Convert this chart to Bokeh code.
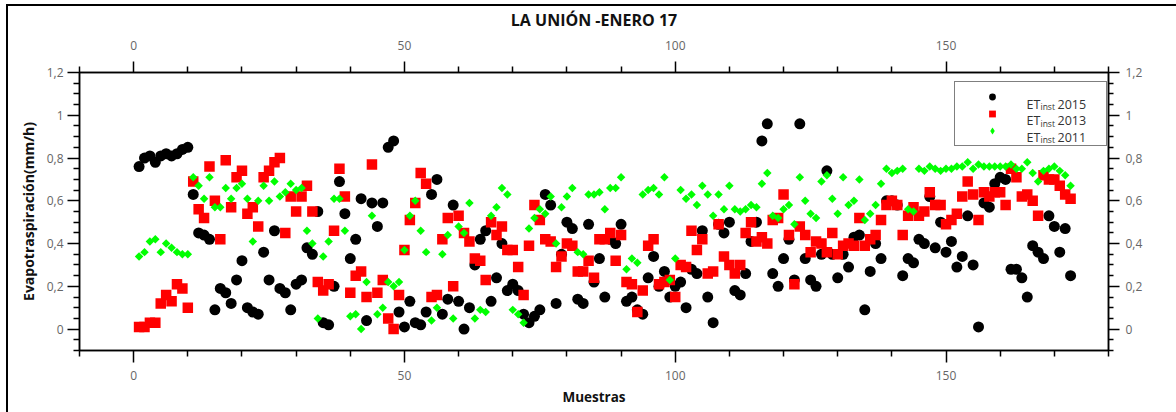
import numpy as np
from bokeh.plotting import figure
from bokeh.models import (Range1d, LinearAxis, FixedTicker, Legend, LegendItem,
                          Label, ColumnDataSource)
from bokeh.embed import file_html
from bokeh.resources import INLINE

# ---------------- data ----------------
samples = list(range(1, 174))

et_2015 = [0.76, 0.80, 0.81, 0.78, 0.81, 0.82, 0.81, 0.82, 0.84, 0.85,
           0.63, 0.45, 0.44, 0.42, 0.09, 0.19, 0.17, 0.12, 0.23, 0.32,
           0.10, 0.08, 0.07, 0.36, 0.23, 0.46, 0.19, 0.17, 0.09, 0.21,
           0.23, 0.38, 0.35, 0.55, 0.03, 0.02, 0.20, 0.69, 0.54, 0.33,
           0.42, 0.61, 0.04, 0.59, 0.48, 0.59, 0.85, 0.88, 0.08, 0.01,
           0.13, 0.03, 0.02, 0.08, 0.63, 0.70, 0.07, 0.14, 0.58, 0.13,
           0.00, 0.10, 0.30, 0.42, 0.46, 0.13, 0.24, 0.40, 0.18, 0.21,
           0.18, 0.07, 0.03, 0.06, 0.09, 0.63, 0.58, 0.12, 0.35, 0.50,
           0.47, 0.14, 0.12, 0.49, 0.22, 0.33, 0.15, 0.42, 0.40, 0.49,
           0.13, 0.15, 0.09, 0.07, 0.24, 0.34, 0.20, 0.27, 0.15, 0.20,
           0.22, 0.10, 0.28, 0.26, 0.46, 0.15, 0.03, 0.49, 0.45, 0.50,
           0.18, 0.16, 0.26, 0.41, 0.50, 0.88, 0.96, 0.26, 0.20, 0.33,
           0.42, 0.23, 0.96, 0.33, 0.23, 0.20, 0.35, 0.74, 0.35, 0.24,
           0.35, 0.29, 0.43, 0.44, 0.09, 0.27, 0.40, 0.33, 0.60, 0.60,
           0.58, 0.25, 0.33, 0.31, 0.42, 0.40, 0.62, 0.38, 0.50, 0.36,
           0.41, 0.29, 0.34, 0.53, 0.30, 0.01, 0.59, 0.57, 0.68, 0.71,
           0.70, 0.28, 0.28, 0.24, 0.15, 0.39, 0.36, 0.33, 0.53, 0.48,
           0.36, 0.47, 0.25]

et_2013 = [0.01, 0.01, 0.03, 0.03, 0.12, 0.16, 0.13, 0.21, 0.19, 0.10,
           0.69, 0.56, 0.52, 0.76, 0.60, 0.42, 0.79, 0.57, 0.71, 0.74,
           0.54, 0.57, 0.48, 0.71, 0.74, 0.78, 0.80, 0.45, 0.62, 0.55,
           0.62, 0.67, 0.55, 0.22, 0.18, 0.21, 0.46, 0.75, 0.62, 0.17,
           0.25, 0.27, 0.15, 0.77, 0.17, 0.23, 0.05, 0.00, 0.16, 0.37,
           0.51, 0.59, 0.73, 0.68, 0.15, 0.16, 0.42, 0.52, 0.20, 0.53,
           0.45, 0.41, 0.33, 0.32, 0.23, 0.50, 0.44, 0.48, 0.37, 0.37,
           0.29, 0.16, 0.39, 0.58, 0.51, 0.42, 0.41, 0.29, 0.34, 0.40,
           0.39, 0.27, 0.27, 0.32, 0.24, 0.42, 0.42, 0.45, 0.32, 0.44,
           0.22, 0.21, 0.08, 0.18, 0.39, 0.42, 0.21, 0.22, 0.23, 0.15,
           0.30, 0.29, 0.46, 0.37, 0.42, 0.26, 0.27, 0.49, 0.34, 0.30,
           0.26, 0.30, 0.45, 0.50, 0.41, 0.43, 0.40, 0.51, 0.52, 0.63,
           0.44, 0.21, 0.48, 0.44, 0.36, 0.41, 0.40, 0.36, 0.45, 0.35,
           0.39, 0.40, 0.39, 0.52, 0.39, 0.42, 0.44, 0.51, 0.58, 0.60,
           0.58, 0.44, 0.53, 0.57, 0.53, 0.55, 0.64, 0.58, 0.58, 0.49,
           0.51, 0.54, 0.62, 0.69, 0.63, 0.51, 0.64, 0.62, 0.64, 0.64,
           0.58, 0.75, 0.71, 0.62, 0.63, 0.60, 0.53, 0.72, 0.70, 0.70,
           0.67, 0.63, 0.61]

et_2011 = [0.34, 0.36, 0.41, 0.42, 0.36, 0.40, 0.38, 0.36, 0.35, 0.35,
           0.71, 0.67, 0.61, 0.71, 0.57, 0.57, 0.66, 0.61, 0.66, 0.68,
           0.61, 0.41, 0.60, 0.67, 0.60, 0.69, 0.62, 0.64, 0.68, 0.65,
           0.66, 0.46, 0.40, 0.05, 0.34, 0.41, 0.61, 0.61, 0.46, 0.06,
           0.07, 0.00, 0.22, 0.53, 0.07, 0.10, 0.22, 0.20, 0.22, 0.37,
           0.53, 0.60, 0.46, 0.36, 0.04, 0.10, 0.35, 0.44, 0.05, 0.48,
           0.45, 0.59, 0.05, 0.09, 0.08, 0.53, 0.57, 0.66, 0.63, 0.09,
           0.07, 0.03, 0.47, 0.52, 0.56, 0.54, 0.62, 0.40, 0.57, 0.62,
           0.66, 0.36, 0.35, 0.63, 0.63, 0.64, 0.56, 0.66, 0.66, 0.71,
           0.28, 0.33, 0.31, 0.63, 0.65, 0.66, 0.63, 0.71, 0.23, 0.33,
           0.65, 0.61, 0.63, 0.58, 0.67, 0.63, 0.53, 0.63, 0.56, 0.67,
           0.56, 0.55, 0.56, 0.58, 0.57, 0.68, 0.73, 0.53, 0.52, 0.56,
           0.58, 0.49, 0.71, 0.60, 0.54, 0.52, 0.69, 0.72, 0.61, 0.54,
           0.71, 0.58, 0.60, 0.70, 0.51, 0.54, 0.58, 0.68, 0.75, 0.73,
           0.74, 0.75, 0.56, 0.55, 0.75, 0.74, 0.76, 0.75, 0.74, 0.75,
           0.75, 0.76, 0.76, 0.78, 0.75, 0.77, 0.76, 0.76, 0.76, 0.76,
           0.76, 0.77, 0.75, 0.75, 0.78, 0.73, 0.69, 0.74, 0.75, 0.76,
           0.74, 0.72, 0.67]

series_years = ["2015", "2013", "2011"]
y_ticks = [0, 0.2, 0.4, 0.6, 0.8, 1.0, 1.2]
y_tick_labels = ["0", "0,2", "0,4", "0,6", "0,8", "1", "1,2"]
x_ticks = [0, 50, 100, 150]
x_tick_labels = ["0", "50", "100", "150"]

# ---------------- figure ----------------
FONT = "Open Sans"
TICK_GREY = "#666666"

p = figure(width=1176, height=412, output_backend="svg", toolbar_location=None,
           x_range=Range1d(-10, 180), y_range=Range1d(-0.1, 1.2),
           min_border_left=79, min_border_right=68,
           min_border_top=72, min_border_bottom=62)
# outer frame line of the picture (left and top edges), drawn by the page itself
p.styles = {"box-shadow": "inset 6px 4px 0 0 white, inset 8px 6px 0 0 black"}
p.background_fill_color = "white"
p.border_fill_alpha = 0
p.outline_line_color = "black"
p.outline_line_width = 1.5
p.xgrid.visible = False
p.ygrid.visible = False

p.title.text = "LA UNIÓN -ENERO 17"
p.title.text_font = FONT
p.title.text_font_size = "16px"
p.title.text_font_style = "bold"
p.title.text_color = "#111111"
p.title.align = "center"
p.title.standoff = 13

top_axis = LinearAxis()
right_axis = LinearAxis()
p.add_layout(top_axis, "above")
p.add_layout(right_axis, "right")

bottom_axis = p.below[0]
left_axis = p.left[0]

y_minor = [round(v, 2) for v in np.arange(-0.1, 1.2001, 0.05)
           if min(abs(v - t) for t in y_ticks) > 1e-6]
x_minor = [v for v in range(-10, 181, 10) if v not in x_ticks]


def style_axis(ax, ticks, labels, minor, tick_out, minor_out, standoff):
    ax.ticker = FixedTicker(ticks=ticks, minor_ticks=minor)
    ax.major_label_overrides = {t: l for t, l in zip(ticks, labels)}
    ax.major_label_text_font = FONT
    ax.major_label_text_font_size = "12px"
    ax.major_label_text_color = TICK_GREY
    ax.axis_line_color = "black"
    ax.axis_line_width = 1.5
    ax.major_tick_line_color = "black"
    ax.minor_tick_line_color = "black"
    ax.major_tick_line_width = 1.5
    ax.minor_tick_line_width = 1.5
    ax.major_tick_in = 0
    ax.minor_tick_in = 0
    ax.major_tick_out = tick_out
    ax.minor_tick_out = minor_out
    ax.major_label_standoff = standoff


style_axis(left_axis, y_ticks, y_tick_labels, y_minor, 12, 6, 4)
style_axis(right_axis, y_ticks, y_tick_labels, y_minor, 11, 5, 6)
style_axis(bottom_axis, x_ticks, x_tick_labels, x_minor, 12, 6, 8)
style_axis(top_axis, x_ticks, x_tick_labels, x_minor, 11, 6, 12)

left_axis.axis_label = "Evapotraspiración(mm/h)"
bottom_axis.axis_label = "Muestras"
for ax in (left_axis, bottom_axis):
    ax.axis_label_text_font = FONT
    ax.axis_label_text_font_style = "bold"
    ax.axis_label_text_color = "#111111"
left_axis.axis_label_text_font_size = "14px"
bottom_axis.axis_label_text_font_size = "13.5px"
left_axis.axis_label_standoff = 6
bottom_axis.axis_label_standoff = 5

# ---------------- data marks ----------------
src = ColumnDataSource(dict(x=samples, y15=et_2015, y13=et_2013, y11=et_2011))
r15 = p.scatter("x", "y15", source=src, marker="circle", size=11,
                fill_color="black", line_color=None)
r13 = p.scatter("x", "y13", source=src, marker="square", size=10.5,
                fill_color="#ff0000", line_color=None)
r11 = p.scatter("x", "y11", source=src, marker="square", angle=np.pi / 4,
                size=6, fill_color="#00ff00", line_color=None)
# same 2011 series as a plain diamond, only used as the legend symbol
r11_key = p.scatter("x", "y11", source=src, marker="diamond", size=9,
                    fill_color="#00ff00", line_color=None, visible=False)

# ---------------- legend ----------------
legend = Legend(items=[LegendItem(label=" ", renderers=[r]) for r in (r15, r13, r11_key)],
                location=(875, 204))
legend.glyph_width = 62
legend.glyph_height = 17
legend.label_height = 17
legend.label_width = 72
legend.label_standoff = 5
legend.spacing = 0
legend.padding = 6
legend.margin = 0
legend.border_line_color = "black"
legend.border_line_width = 1.5
legend.background_fill_alpha = 0
legend.label_text_font_size = "12px"
p.add_layout(legend)

LEG_TEXT = "#333333"
for k, yr in enumerate(series_years):
    base = 246.5 - 16.5 * k
    p.add_layout(Label(x=947, y=base, x_units="screen", y_units="screen", text="ET",
                       text_font=FONT, text_font_size="12.5px", text_color=LEG_TEXT,
                       text_baseline="alphabetic"))
    p.add_layout(Label(x=961, y=base - 2.5, x_units="screen", y_units="screen",
                       text="inst", text_font=FONT, text_font_size="8.5px",
                       text_color=LEG_TEXT, text_baseline="alphabetic"))
    p.add_layout(Label(x=978, y=base, x_units="screen", y_units="screen", text=yr,
                       text_font=FONT, text_font_size="12.5px", text_color=LEG_TEXT,
                       text_baseline="alphabetic"))

open("out.html", "w").write(file_html(p, INLINE))
